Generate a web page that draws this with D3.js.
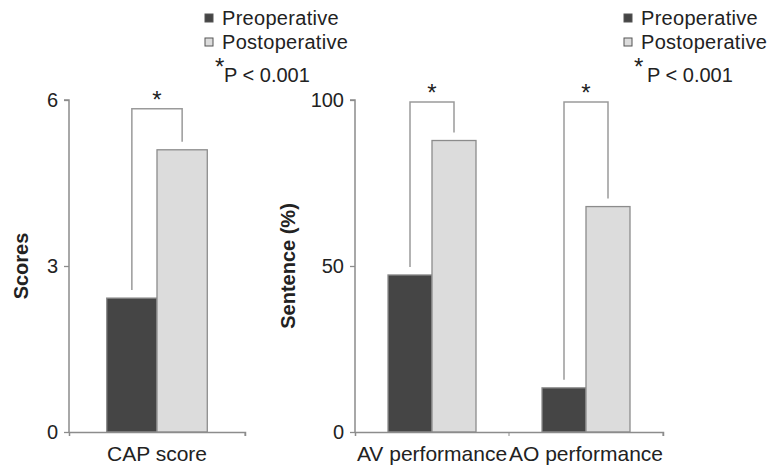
<!DOCTYPE html>
<html>
<head>
<meta charset="utf-8">
<script src="https://cdn.jsdelivr.net/npm/d3@7"></script>
<style>
  body { margin: 0; background: #fff; }
  text { font-family: "Liberation Sans", Arial, sans-serif; fill: #222; }
</style>
</head>
<body>
<svg id="chart" width="772" height="465"></svg>
<script>
// data
let series = ["Preoperative", "Postoperative"];
let leftCats = ["CAP score"];
let leftPre = [2.42];
let leftPost = [5.1];
let leftTicks = [0, 3, 6];
let leftBracketTop = [5.84];

let rightCats = ["AV performance", "AO performance"];
let rightPre = [47.3, 13.3];
let rightPost = [87.8, 67.9];
let rightTicks = [0, 50, 100];
let rightBracketTop = [99.4, 99.4];

let darkFill = "#454545";
let lightFill = "#dcdcdc";
let lineCol = "#8c8c8c";

let svg = d3.select("#chart");

function drawPanel(opt) {
  let g = svg.append("g");
  let x0 = d3.scaleBand().domain(opt.cats).range(opt.xr).padding(0);
  let x1 = d3.scaleBand().domain(series).range([0, x0.bandwidth()]).paddingInner(0).paddingOuter(0.75);
  let y = d3.scaleLinear().domain(opt.domain).range([432, 100]);

  let rows = opt.cats.map((c, i) => ({cat: c, vals: [opt.pre[i], opt.post[i]], top: opt.top[i]}));

  // bars
  let grp = g.selectAll("g.cat").data(rows).enter().append("g")
             .attr("transform", d => `translate(${x0(d.cat)},0)`);
  grp.selectAll("rect").data(d => d.vals.map((v, k) => ({key: series[k], v: v})))
     .enter().append("rect")
     .attr("x", d => x1(d.key))
     .attr("y", d => y(d.v))
     .attr("width", x1.bandwidth())
     .attr("height", d => y(0) - y(d.v))
     .attr("fill", d => d.key == "Preoperative" ? darkFill : lightFill)
     .attr("stroke", lineCol)
     .attr("stroke-width", 1.3);

  // significance brackets
  grp.append("path")
     .attr("d", d => {
       let xa = x1("Preoperative") + x1.bandwidth() / 2;
       let xb = x1("Postoperative") + x1.bandwidth() / 2;
       return `M${xa},${y(d.vals[0]) - 8}V${y(d.top)}H${xb}V${y(d.vals[1]) - 8}`;
     })
     .attr("fill", "none")
     .attr("stroke", "#9a9a9a")
     .attr("stroke-width", 1.5);
  grp.append("text")
     .attr("x", x0.bandwidth() / 2)
     .attr("y", d => y(d.top) - 1)
     .attr("text-anchor", "middle")
     .style("font-size", "24px")
     .text("*");

  // y axis
  let yAxis = g.append("g").attr("transform", `translate(${opt.xr[0]},0)`)
               .call(d3.axisLeft(y).tickValues(opt.ticks).tickFormat(d3.format("d")).tickSize(5).tickPadding(6));
  yAxis.select(".domain").attr("stroke", lineCol).attr("stroke-width", 1.5).attr("d", `M-5,100H0V432`);
  yAxis.selectAll(".tick line").attr("stroke", lineCol).attr("stroke-width", 1.3);
  yAxis.selectAll(".tick text").style("font-size", "20px").attr("fill", "#222").attr("font-family", null);

  // x axis
  let xAxis = g.append("g").attr("transform", "translate(0,432)")
               .call(d3.axisBottom(x0).tickSize(4).tickFormat(""));
  xAxis.select(".domain").attr("stroke", lineCol).attr("stroke-width", 1.5);
  xAxis.selectAll(".tick line").attr("stroke", lineCol)
       .attr("transform", d => `translate(${x0.bandwidth() / 2},0)`);
  g.selectAll("text.cat").data(opt.cats).enter().append("text")
   .attr("x", d => x0(d) + x0.bandwidth() / 2)
   .attr("y", 461)
   .attr("text-anchor", "middle")
   .style("font-size", "21px")
   .text(d => d);

  // y label
  g.append("text")
   .attr("transform", `translate(${opt.labelX},266) rotate(-90)`)
   .attr("text-anchor", "middle")
   .style("font-size", "20px")
   .style("font-weight", "bold")
   .text(opt.label);

  // legend
  let lg = g.append("g").attr("transform", `translate(${opt.legX},0)`);
  series.forEach((s, i) => {
    lg.append("rect").attr("x", 0).attr("y", 14 + i * 24).attr("width", 8).attr("height", 8)
      .attr("fill", i == 0 ? darkFill : lightFill).attr("stroke", "#555").attr("stroke-width", 1);
    lg.append("text").attr("x", 17).attr("y", 25 + i * 24)
      .style("font-size", "20px").style("letter-spacing", "0.3px").text(s);
  });
  lg.append("text").attr("x", 10).attr("y", 75).style("font-size", "24px").text("*");
  lg.append("text").attr("x", 19 + opt.pShift).attr("y", 82)
    .style("font-size", "20px").text("P < 0.001");
}

drawPanel({cats: leftCats, pre: leftPre, post: leftPost, top: leftBracketTop, domain: [0, 6],
           ticks: leftTicks, xr: [69, 245], label: "Scores", labelX: 28, legX: 205, pShift: 0});
drawPanel({cats: rightCats, pre: rightPre, post: rightPost, top: rightBracketTop, domain: [0, 100],
           ticks: rightTicks, xr: [355, 663], label: "Sentence (%)", labelX: 295, legX: 624, pShift: 4});
</script>
</body>
</html>
